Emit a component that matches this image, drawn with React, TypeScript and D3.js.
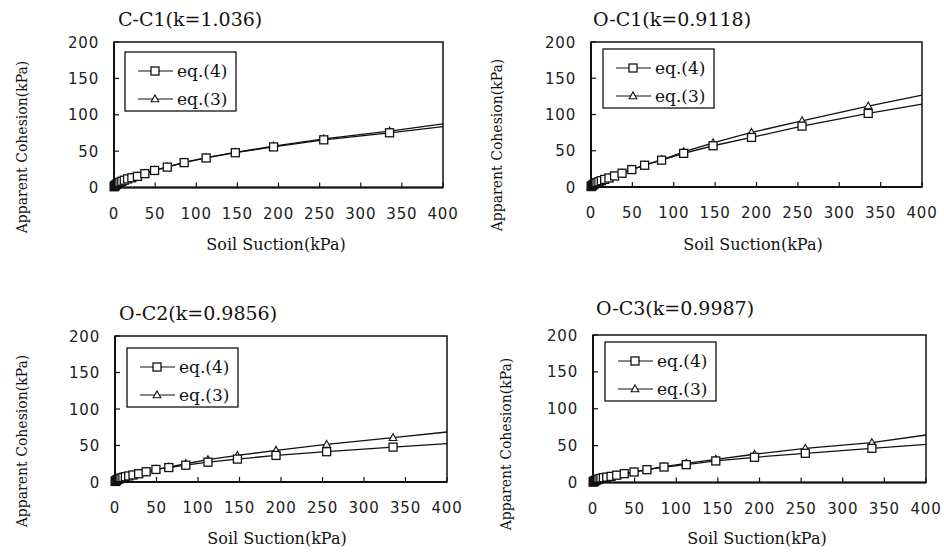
import React from "react";
import * as d3 from "d3";

// suction (kPa) at each plotted point; the last one (400) only ends the line
const suction = [0.3, 0.6, 1, 1.5, 2.2, 3.2, 4.2, 5.5, 7.2, 9.5, 12.5, 16.5, 21.7, 28.5, 37.5, 49.3, 64.8, 85.3, 112, 147.5, 194, 255, 335, 400];

const titles = ["C-C1(k=1.036)", "O-C1(k=0.9118)", "O-C2(k=0.9856)", "O-C3(k=0.9987)"];

const cc1Eq4 = [1, 1.6, 2.2, 2.9, 3.6, 4.5, 5.2, 6.1, 7.2, 8.5, 10, 11.8, 13.4, 15.3, 19, 23.4, 28, 34.2, 40.6, 47.8, 55.8, 65.5, 75.2, 83.6];
const cc1Eq3 = [0.9, 1.5, 2.1, 2.8, 3.5, 4.4, 5.1, 6, 7.1, 8.4, 9.9, 11.7, 13.4, 15.4, 19.1, 23.5, 28.2, 34.4, 41, 48.4, 56.8, 66.9, 77.6, 87.5];

const oc1Eq4 = [0.6, 1.1, 1.5, 2, 2.7, 3.5, 4.2, 5, 6, 7.3, 8.8, 10.5, 12.4, 15.2, 19, 24, 30, 37, 46.4, 56.9, 68.4, 84, 101.5, 114.3];
const oc1Eq3 = [0.5, 1, 1.4, 1.9, 2.6, 3.4, 4.1, 4.9, 5.9, 7.2, 8.7, 10.4, 12.3, 15.1, 19, 24.1, 30.3, 37.6, 48.6, 61, 75.3, 91.3, 111.6, 126.7];

const oc2Eq4 = [0.7, 1.1, 1.6, 2.1, 2.7, 3.4, 4, 4.7, 5.4, 6.3, 7.2, 8.3, 9.6, 11.3, 14, 17.2, 19.8, 23, 27.2, 31.4, 36.4, 41.5, 47.8, 52.5];
const oc2Eq3 = [0.6, 1, 1.5, 2, 2.6, 3.3, 3.9, 4.6, 5.3, 6.2, 7.1, 8.2, 9.6, 11.4, 14.1, 17.4, 20.3, 25, 30.6, 36.4, 43.3, 51.5, 60.7, 68.5];

const oc3Eq4 = [0.6, 1, 1.4, 1.8, 2.3, 2.9, 3.4, 4, 4.8, 5.6, 6.5, 7.3, 8.3, 9.9, 12, 14.2, 17.4, 21, 24.2, 29.2, 34.2, 39.6, 46.4, 51.8];
const oc3Eq3 = [0.5, 0.9, 1.3, 1.7, 2.2, 2.8, 3.3, 3.9, 4.7, 5.5, 6.4, 7.2, 8.3, 9.9, 12, 14.3, 17.6, 21.4, 26, 31.5, 38.3, 46.4, 54, 64.4];

const xTicks = [0, 50, 100, 150, 200, 250, 300, 350, 400];
const yTicks = [0, 50, 100, 150, 200];
const legendLabels = ["eq.(4)", "eq.(3)"];

const eq4Sets = [cc1Eq4, oc1Eq4, oc2Eq4, oc3Eq4];
const eq3Sets = [cc1Eq3, oc1Eq3, oc2Eq3, oc3Eq3];

// frame of each panel: left, top, right, bottom, legend offset, title position, axis label positions
const layout = [
  { l: 114, t: 42, r: 443, b: 187.5, lg: [11, 10], title: [118, 26], yl: [22, 147], xl: [276, 250] },
  { l: 591, t: 42, r: 922, b: 187, lg: [12, 7], title: [593, 26], yl: [497, 145], xl: [753, 250] },
  { l: 115, t: 336, r: 447, b: 482, lg: [12, 12], title: [119, 320], yl: [22, 441], xl: [277, 544] },
  { l: 593, t: 335, r: 926, b: 482.5, lg: [12, 7], title: [596, 315], yl: [506, 444], xl: [757, 544] },
];

const serif = "'DejaVu Serif', serif";
const sans = "'DejaVu Sans', sans-serif";
const ink = "#111";

const Square = ({ x, y }: { x: number; y: number }) => (
  <rect x={x - 4} y={y - 4} width={8} height={8} fill="#fff" stroke={ink} strokeWidth={1.3} />
);
const Triangle = ({ x, y }: { x: number; y: number }) => (
  <path d={`M${x},${y - 4}L${x + 3.8},${y + 2.8}L${x - 3.8},${y + 2.8}Z`} fill="#fff" stroke={ink} strokeWidth={1.1} />
);

const Panel = ({ i }: { i: number }) => {
  const g = layout[i];
  const x = d3.scaleLinear().domain([0, 400]).range([g.l, g.r]);
  const y = d3.scaleLinear().domain([0, 200]).range([g.b, g.t]);
  const eq4 = eq4Sets[i];
  const eq3 = eq3Sets[i];
  const line = d3
    .line<number>()
    .x((_, j) => x(suction[j]))
    .y((d) => y(d));
  const nMarks = suction.length - 1;
  const lx = g.l + g.lg[0];
  const ly = g.t + g.lg[1];

  return (
    <g>
      <text x={g.title[0]} y={g.title[1]} fontFamily={serif} fontSize={19} fill={ink}>
        {titles[i]}
      </text>

      {/* ticks point inward */}
      {xTicks.map((t) => (
        <g key={"x" + t}>
          <line x1={x(t)} x2={x(t)} y1={g.b} y2={g.b - 5} stroke={ink} strokeWidth={1.2} />
          <text x={x(t)} y={g.b + 31} textAnchor="middle" fontFamily={sans} fontSize={15} letterSpacing={0.8} fill="#222">
            {t}
          </text>
        </g>
      ))}
      {yTicks.map((t) => (
        <g key={"y" + t}>
          <line x1={g.l} x2={g.l + 5} y1={y(t)} y2={y(t)} stroke={ink} strokeWidth={1.2} />
          <text x={g.l - 15} y={y(t) + 5.5} textAnchor="end" fontFamily={sans} fontSize={15} letterSpacing={0.8} fill="#222">
            {t}
          </text>
        </g>
      ))}

      <path d={line(eq3) || ""} fill="none" stroke={ink} strokeWidth={1.3} />
      <path d={line(eq4) || ""} fill="none" stroke={ink} strokeWidth={1.3} />
      {eq3.slice(0, nMarks).map((d, j) => (
        <Triangle key={"t" + j} x={x(suction[j])} y={y(d)} />
      ))}
      {eq4.slice(0, nMarks).map((d, j) => (
        <Square key={"s" + j} x={x(suction[j])} y={y(d)} />
      ))}

      <rect x={g.l} y={g.t} width={g.r - g.l} height={g.b - g.t} fill="none" stroke={ink} strokeWidth={1.5} />
      <line x1={g.l} x2={g.l} y1={g.t} y2={g.b} stroke={ink} strokeWidth={2} />
      <line x1={g.l} x2={g.r} y1={g.b} y2={g.b} stroke={ink} strokeWidth={2} />

      {/* legend */}
      <rect x={lx} y={ly} width={111} height={59} fill="#fff" stroke={ink} strokeWidth={1.3} />
      {legendLabels.map((lab, k) => {
        const yy = ly + 19 + k * 28;
        return (
          <g key={lab}>
            <line x1={lx + 13} x2={lx + 48} y1={yy} y2={yy} stroke={ink} strokeWidth={1.2} />
            {k === 0 ? <Square x={lx + 30} y={yy} /> : <Triangle x={lx + 30} y={yy} />}
            <text x={lx + 52} y={yy + 6} fontFamily={serif} fontSize={17} fill={ink}>
              {lab}
            </text>
          </g>
        );
      })}

      <text
        transform={`translate(${g.yl[0]},${g.yl[1]}) rotate(-90)`}
        textAnchor="middle"
        dy="0.35em"
        fontFamily={serif}
        fontSize={14}
        fill={ink}
      >
        Apparent Cohesion(kPa)
      </text>
      <text x={g.xl[0]} y={g.xl[1]} textAnchor="middle" fontFamily={serif} fontSize={16} fill={ink}>
        Soil Suction(kPa)
      </text>
    </g>
  );
};

const App = () => (
  <svg width={944} height={552} style={{ position: "absolute", left: 0, top: 0, background: "#fff" }}>
    <rect width={944} height={552} fill="#fff" />
    {titles.map((_, i) => (
      <Panel key={i} i={i} />
    ))}
  </svg>
);

export default App;
